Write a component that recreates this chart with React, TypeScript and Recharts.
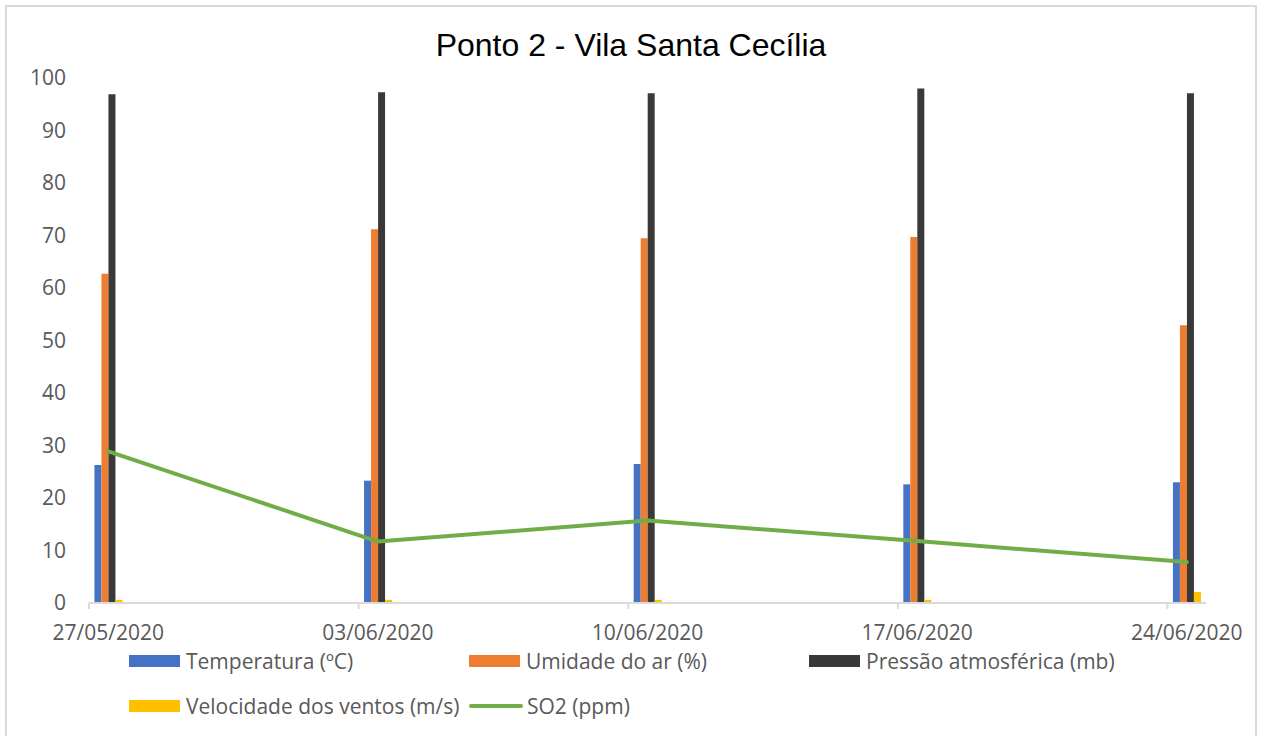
import React from "react";
import { ComposedChart, Bar, Line, XAxis, YAxis, Legend } from "recharts";

const dateLabels = ["27/05/2020", "03/06/2020", "10/06/2020", "17/06/2020", "24/06/2020"];
const dayOffsets = [0, 7, 14, 21, 28];
const temperatura = [26.3, 23.3, 26.5, 22.6, 23.0];
const umidade = [62.7, 71.2, 69.5, 69.7, 52.9];
const pressao = [96.9, 97.3, 97.1, 98.0, 97.1];
const velocidade = [0.6, 0.6, 0.6, 0.6, 2.1];
const so2 = [28.9, 11.7, 15.7, 11.8, 7.8];
const yTicks = [0, 10, 20, 30, 40, 50, 60, 70, 80, 90, 100];
const TOTAL_DAYS = 29;

const data = dayOffsets.map((d, i) => ({
  x: d + 0.5,
  temperatura: temperatura[i],
  umidade: umidade[i],
  pressao: pressao[i],
  velocidade: velocidade[i],
  so2: so2[i],
}));

const FONT = "'Open Sans', Lato, sans-serif";
const GRAY = "#595959";
const CHART_W = 1249;
const CHART_H = 729;
const MARGIN = { top: 71, right: 50, left: 22, bottom: 103 };
const Y_AXIS_W = 60;
const PLOT_W = CHART_W - MARGIN.left - MARGIN.right - Y_AXIS_W;

const DateTick = (props: any) => {
  const { x, y, payload } = props;
  const w = typeof props.width === "number" && props.width > 0 ? props.width : PLOT_W;
  const half = w / TOTAL_DAYS / 2;
  const idx = dayOffsets.indexOf(payload.value);
  return (
    <text x={x + half} y={y + 29} textAnchor="middle" fill={GRAY} fontFamily={FONT} fontSize={21}>
      {idx >= 0 ? dateLabels[idx] : ""}
    </text>
  );
};

const YTick = (props: any) => {
  const { x, y, payload } = props;
  return (
    <text x={x} y={y + 7} textAnchor="end" fill={GRAY} fontFamily={FONT} fontSize={21}>
      {payload.value}
    </text>
  );
};

const LegendContent = (props: any) => {
  const payload = props.payload || [];
  const order = ["Temperatura (ºC)", "Umidade do ar (%)", "Pressão atmosférica (mb)", "Velocidade dos ventos (m/s)", "SO2 (ppm)"];
  const items = order
    .map((name) => payload.find((p: any) => p.value === name))
    .filter(Boolean);
  return (
    <div style={{ display: "grid", gridTemplateColumns: "340px 340px 340px", rowGap: 0, fontFamily: FONT, fontSize: 21, color: GRAY }}>
      {items.map((p: any) => (
        <div key={p.value} style={{ display: "flex", alignItems: "center", height: 45, whiteSpace: "nowrap" }}>
          {p.type === "line" ? (
            <svg width={54} height={12} style={{ marginRight: 4 }}>
              <line x1={2} y1={6} x2={52} y2={6} stroke={p.color} strokeWidth={4} strokeLinecap="round" />
            </svg>
          ) : (
            <span style={{ display: "inline-block", width: 51, height: 12, background: p.color, marginRight: 6 }} />
          )}
          <span>{p.value}</span>
        </div>
      ))}
    </div>
  );
};

export default function App() {
  return (
    <div
      style={{
        position: "absolute",
        left: 5,
        top: 5,
        width: 1252,
        height: 731,
        boxSizing: "border-box",
        border: "2px solid #D9D9D9",
        borderBottom: "none",
        background: "#fff",
      }}
    >
      <div
        style={{
          position: "absolute",
          left: 0,
          width: "100%",
          top: 20,
          textAlign: "center",
          fontFamily: "'Liberation Sans', Arial, sans-serif",
          fontSize: 32,
          color: "#000",
          lineHeight: "36px",
        }}
      >
        Ponto 2 - Vila Santa Cecília
      </div>
      <div style={{ position: "absolute", left: 0, top: 0 }}>
        <ComposedChart width={CHART_W} height={CHART_H} data={data} margin={MARGIN} barGap={0}>
          <XAxis
            dataKey="x"
            type="number"
            domain={[0, TOTAL_DAYS]}
            ticks={dayOffsets}
            interval={0}
            tick={<DateTick />}
            tickSize={6}
            tickMargin={2}
            height={30}
            axisLine={{ stroke: "#D9D9D9", strokeWidth: 2 }}
            tickLine={{ stroke: "#D9D9D9", strokeWidth: 2 }}
            allowDataOverflow
          />
          <YAxis
            type="number"
            domain={[0, 100]}
            ticks={yTicks}
            interval={0}
            width={Y_AXIS_W}
            axisLine={false}
            tickLine={false}
            tickSize={0}
            tickMargin={23}
            tick={<YTick />}
          />
          <Bar dataKey="temperatura" name="Temperatura (ºC)" fill="#4472C4" barSize={7} isAnimationActive={false} />
          <Bar dataKey="umidade" name="Umidade do ar (%)" fill="#ED7D31" barSize={7} isAnimationActive={false} />
          <Bar dataKey="pressao" name="Pressão atmosférica (mb)" fill="#3B3838" barSize={7} isAnimationActive={false} />
          <Bar dataKey="velocidade" name="Velocidade dos ventos (m/s)" fill="#FFC000" barSize={7} isAnimationActive={false} />
          <Line
            dataKey="so2"
            name="SO2 (ppm)"
            type="linear"
            stroke="#70AD47"
            strokeWidth={4}
            strokeLinecap="round"
            strokeLinejoin="round"
            dot={false}
            activeDot={false}
            isAnimationActive={false}
          />
          <Legend
            layout="vertical"
            align="center"
            verticalAlign="middle"
            content={<LegendContent />}
            wrapperStyle={{ left: 122, top: 631, width: 1060 }}
          />
        </ComposedChart>
      </div>
    </div>
  );
}
